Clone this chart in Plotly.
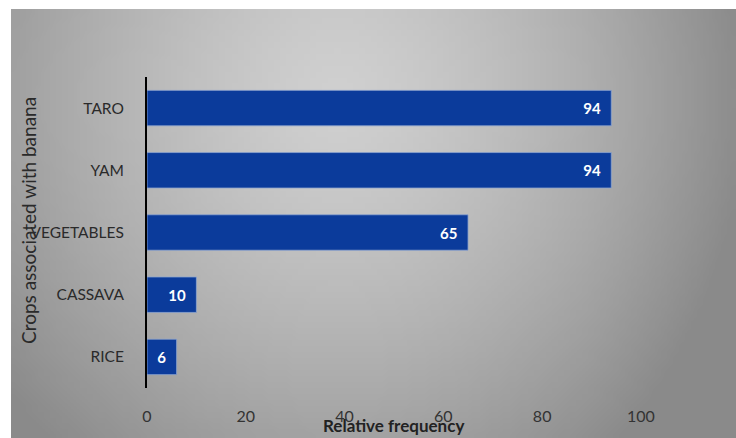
import base64, struct, zlib, math
import plotly.graph_objects as go

# ---- data ----
crops = ["RICE", "CASSAVA", "VEGETABLES", "YAM", "TARO"]
freq = [6, 10, 65, 94, 94]
tick_vals = [0, 20, 40, 60, 80, 100]
x_max = 115

W, H = 736, 438
L, R, T, B = 147, 21, 77, 50
pw, ph = W - L - R, H - T - B


# ---- background gradient image (styling only) ----
def make_png(w, h):
    rows = []
    for j in range(h):
        row = bytearray([0])
        for i in range(w):
            u = i / (w - 1)
            v = j / (h - 1)
            d = math.sqrt(((u - 0.45) / 0.6) ** 2 + ((v - 0.2) / 1.1) ** 2)
            val = 208 - 70 * (d ** 1.4)
            if u > 0.8:
                val -= (u - 0.8) * 20
            val = int(max(138, min(212, val)))
            row += bytes([val, val, val])
        rows.append(bytes(row))
    raw = b"".join(rows)

    def chunk(tag, data):
        c = tag + data
        return struct.pack(">I", len(data)) + c + struct.pack(">I", zlib.crc32(c) & 0xFFFFFFFF)

    png = b"\x89PNG\r\n\x1a\n"
    png += chunk(b"IHDR", struct.pack(">IIBBBBB", w, h, 8, 2, 0, 0, 0))
    png += chunk(b"IDAT", zlib.compress(raw, 9))
    png += chunk(b"IEND", b"")
    return "data:image/png;base64," + base64.b64encode(png).decode()


bg = make_png(120, 72)

FONT = "Lato"
bar_color = "#0b3b9b"

fig = go.Figure()
fig.add_trace(go.Bar(
    y=crops, x=freq, orientation="h",
    marker=dict(color=bar_color, line=dict(color="#8fa6cf", width=0.8)),
    width=0.57,
    text=freq,
    texttemplate="<b>%{x}</b>\u00a0\u00a0",
    textposition="inside", insidetextanchor="end",
    textfont=dict(color="white", size=15, family=FONT),
    cliponaxis=False,
    showlegend=False,
))

fig.update_layout(
    width=W, height=H,
    margin=dict(l=L, r=R, t=T, b=B),
    paper_bgcolor="white", plot_bgcolor="rgba(0,0,0,0)",
    font=dict(family=FONT, color="#2a2a2a"),
    xaxis=dict(range=[0, x_max], tickmode="array", tickvals=tick_vals,
               showgrid=False, zeroline=False, showline=False, ticks="",
               ticklabelstandoff=17,
               tickfont=dict(size=16, family=FONT, color="#333333")),
    yaxis=dict(showgrid=False, zeroline=False, showline=True, linecolor="black",
               linewidth=2, ticks="", ticklabelstandoff=18,
               tickfont=dict(size=15.5, family=FONT, color="#2a2a2a"),
               range=[-0.5, 4.5]),
    images=[dict(source=bg, xref="paper", yref="paper",
                 x=(11 - L) / pw, y=1 + (T - 9) / ph,
                 sizex=(W - 11) / pw, sizey=(H - 9) / ph,
                 sizing="stretch", layer="below", xanchor="left", yanchor="top")],
    annotations=[
        dict(text="<b>Relative frequency</b>", xref="paper", yref="paper",
             x=(393 - L) / pw, y=-(425 - (T + ph)) / ph, showarrow=False,
             xanchor="center", yanchor="middle",
             font=dict(size=17, family=FONT, color="#222222")),
        dict(text="Crops associated with banana", xref="paper", yref="paper",
             x=(28 - L) / pw, y=1 - (221 - T) / ph, showarrow=False, textangle=-90,
             xanchor="center", yanchor="middle",
             font=dict(size=19, family=FONT, color="#2a2a2a")),
    ],
)

fig.write_html("out.html")
